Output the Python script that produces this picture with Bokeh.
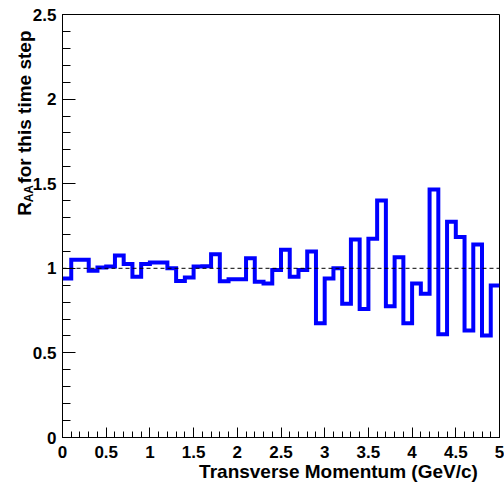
import numpy as np
from bokeh.plotting import figure
from bokeh.models import Range1d, SingleIntervalTicker, FixedTicker, LinearAxis
from bokeh.embed import file_html
from bokeh.resources import INLINE

# ---- data ----
bin_edges_start = 0.0
bin_width = 0.1
raa_values = [0.94, 1.05, 1.05, 0.985, 1.005, 1.01, 1.075, 1.025, 0.95, 1.025,
              1.035, 1.035, 1.00, 0.925, 0.945, 1.01, 1.012, 1.083, 0.924, 0.935,
              0.935, 1.06, 0.92, 0.91, 0.99, 1.11, 0.95, 0.99, 1.10, 0.675,
              0.94, 1.00, 0.79, 1.17, 0.76, 1.175, 1.40, 0.775, 1.065, 0.675,
              0.91, 0.85, 1.465, 0.61, 1.275, 1.185, 0.632, 1.14, 0.603, 0.898]
reference_level = 1.0
x_ticks = [0, 0.5, 1, 1.5, 2, 2.5, 3, 3.5, 4, 4.5, 5]
x_tick_labels = ["0", "0.5", "1", "1.5", "2", "2.5", "3", "3.5", "4", "4.5", "5"]
y_ticks = [0, 0.5, 1, 1.5, 2, 2.5]
y_tick_labels = ["0", "0.5", "1", "1.5", "2", "2.5"]
x_title = "Transverse Momentum (GeV/c)"
y_title_main = "R"
y_title_sub = "AA"
y_title_rest = "for this time step"

n = len(raa_values)
edges = [bin_edges_start + i * bin_width for i in range(n + 1)]
step_y = raa_values + [raa_values[-1]]

FONT = "Liberation Sans"

# frame geometry (canvas pixels)
FL, FT, FW, FH = 60, 14, 437, 423
X0, X1, Y0, Y1 = 0.0, 5.0, 0.0, 2.5


def cx(px):
    return X0 + (px - FL) * (X1 - X0) / FW


def cy(py):
    return Y0 + (FT + FH - py) * (Y1 - Y0) / FH


p = figure(frame_width=FW, frame_height=FH,
           min_border_left=FL, min_border_right=504 - FL - FW,
           min_border_top=FT, min_border_bottom=486 - FT - FH,
           x_range=Range1d(X0, X1), y_range=Range1d(Y0, Y1),
           output_backend="svg", toolbar_location=None,
           background_fill_color="white", border_fill_color="white")

p.xgrid.visible = False
p.ygrid.visible = False
p.outline_line_color = "black"
p.outline_line_width = 1
p.outline_line_alpha = 1

# histogram outline
p.step(edges, step_y, mode="after", line_color="#0000ff", line_width=4,
       line_join="miter")
# reference dashed line
p.line([edges[0], edges[-1]], [reference_level, reference_level],
       line_color="black", line_width=1, line_dash="4 3")

for ax, ticks, labels in ((p.xaxis[0], x_ticks, x_tick_labels),
                          (p.yaxis[0], y_ticks, y_tick_labels)):
    ax.ticker = SingleIntervalTicker(interval=0.5, num_minor_ticks=5)
    ax.major_label_overrides = {t: l for t, l in zip(ticks, labels)}
    ax.axis_line_color = "black"
    ax.axis_line_width = 1
    ax.major_tick_line_color = "black"
    ax.minor_tick_line_color = "black"
    ax.major_tick_out = 0
    ax.minor_tick_out = 0
    ax.major_label_text_font = FONT
    ax.major_label_text_font_style = "bold"
    ax.major_label_text_font_size = "17px"
    ax.major_label_text_color = "black"

p.xaxis.major_tick_in = 10
p.xaxis.minor_tick_in = 6
p.xaxis.major_label_standoff = 8
p.yaxis.major_tick_in = 13
p.yaxis.minor_tick_in = 8
p.yaxis.major_label_standoff = 6


# axis titles carried by label-only extra axes
def title_axis(side, texts_at, size, standoff, orientation):
    conv = cy if side == "left" else cx
    ticks = [conv(c) for _, c in texts_at]
    ax = LinearAxis(ticker=FixedTicker(ticks=ticks, minor_ticks=[]),
                    major_label_overrides={t: s for t, (s, _) in zip(ticks, texts_at)},
                    major_label_orientation=orientation,
                    major_label_standoff=standoff,
                    major_label_text_font=FONT,
                    major_label_text_font_style="bold",
                    major_label_text_font_size=size,
                    major_label_text_color="black",
                    axis_line_color=None, major_tick_line_color=None,
                    minor_tick_line_color=None,
                    major_tick_in=0, major_tick_out=0,
                    minor_tick_in=0, minor_tick_out=0)
    p.add_layout(ax, side)


# x title: centred at its pixel position along x
title_axis("below", [(x_title, 336)], "19px", 0, "horizontal")
# y title: positions are the upper end of each rotated text
title_axis("left", [(y_title_main, 201.5), (y_title_rest, 30)], "19px", 5, np.pi / 2)
title_axis("left", [(y_title_sub, 184.5)], "12px", -28, np.pi / 2)

open("out.html", "w").write(file_html(p, INLINE))
